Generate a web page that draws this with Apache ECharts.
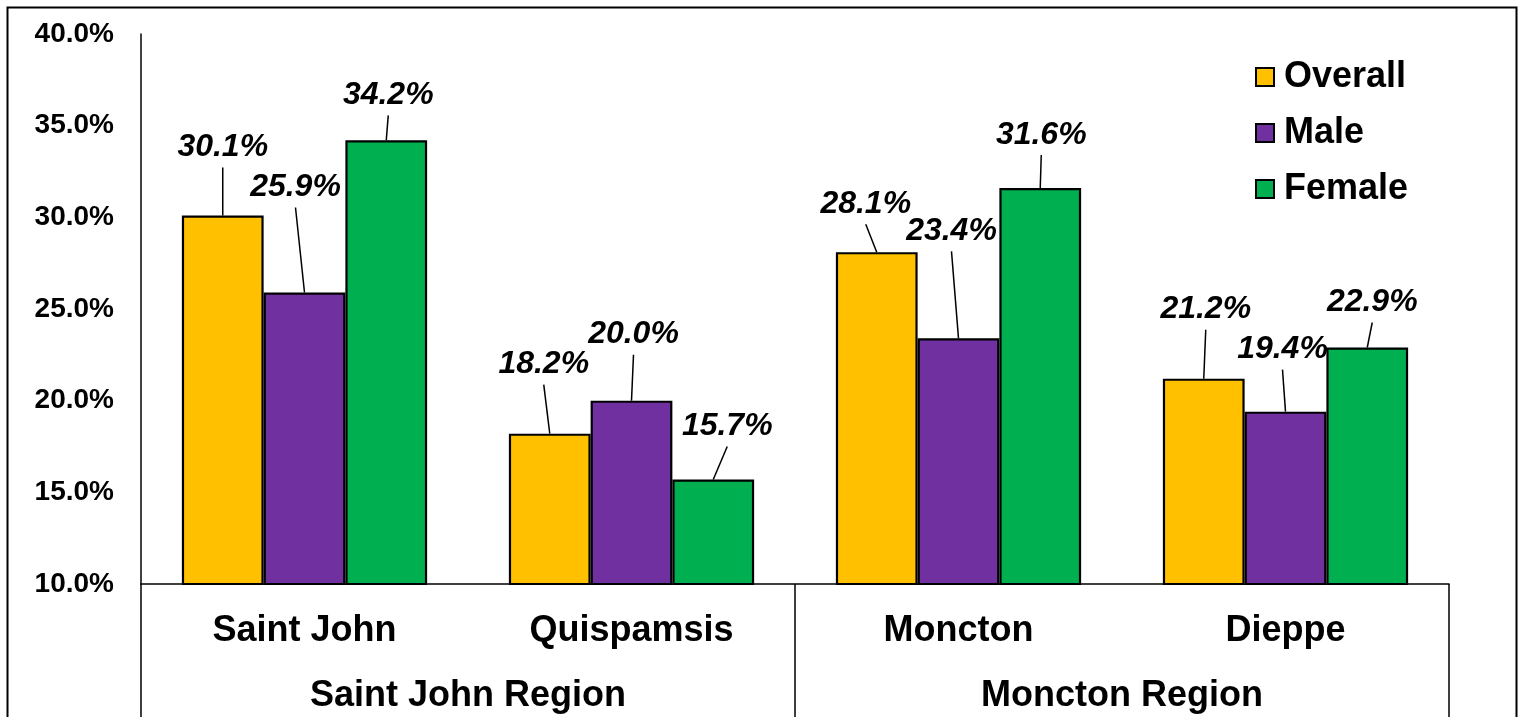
<!DOCTYPE html>
<html>
<head>
<meta charset="utf-8">
<title>Share by city and sex</title>
<script src="https://cdn.jsdelivr.net/npm/echarts@6/dist/echarts.min.js"></script>
<style>
  html, body { margin: 0; padding: 0; background: #ffffff; }
  #chart { width: 1523px; height: 717px; }
</style>
</head>
<body>
<div id="chart"></div>
<script>
// Cities along the x axis, grouped into two regions
var cities = ['Saint John', 'Quispamsis', 'Moncton', 'Dieppe'];
var regions = ['Saint John Region', 'Moncton Region'];

// Percent values per city
var seriesNames = ['Overall', 'Male', 'Female'];
var overall = [30.1, 18.2, 28.1, 21.2];
var male = [25.9, 20.0, 23.4, 19.4];
var female = [34.2, 15.7, 31.6, 22.9];

// Y axis range and step (percent)
var yMin = 10, yMax = 40, yStep = 5;

// Callout label offsets (px) from each bar's top centre: [dx, dy]
var overallLabelOffsets = [[0, -70], [-6, -71], [-11, -50], [2, -71]];
var maleLabelOffsets = [[-9, -107], [2, -68], [-7, -109], [-3, -64]];
var femaleLabelOffsets = [[2, -47], [14, -55], [1, -55], [5, -47]];

var colors = ['#FFC000', '#7030A0', '#00B050'];
var FONT = '"Liberation Sans", Arial, sans-serif';

var valueSets = [overall, male, female];
var offsetSets = [overallLabelOffsets, maleLabelOffsets, femaleLabelOffsets];

var barSeries = seriesNames.map(function (name, s) {
  return {
    name: name,
    type: 'bar',
    data: valueSets[s],
    barGap: '0%',
    barCategoryGap: '25%',
    itemStyle: { color: colors[s], borderColor: '#000000', borderWidth: 2.2 },
    emphasis: { disabled: true },
    z: 2
  };
});

// Callout data: [category index, value, series index, dx, dy]
var calloutData = [];
valueSets.forEach(function (vals, s) {
  vals.forEach(function (v, i) {
    calloutData.push([i, v, s, offsetSets[s][i][0], offsetSets[s][i][1]]);
  });
});

var calloutSeries = {
  type: 'custom',
  name: 'callouts',
  coordinateSystem: 'cartesian2d',
  data: calloutData,
  encode: { x: 0, y: 1 },
  silent: true,
  z: 5,
  clip: false,
  renderItem: function (params, api) {
    var idx = api.value(0);
    var val = api.value(1);
    var s = api.value(2);
    var dx = api.value(3);
    var dy = api.value(4);
    var pt = api.coord([idx, val]);
    var band = api.size([1, 0])[0];
    var barW = band * 0.75 / 3;
    var bx = pt[0] + (s - 1) * barW;
    var by = pt[1];
    var tx = bx + dx;
    var ty = by + dy;
    return {
      type: 'group',
      children: [
        {
          type: 'line',
          shape: { x1: bx, y1: by, x2: tx, y2: ty + 22 },
          style: { stroke: '#000000', lineWidth: 1.5 }
        },
        {
          type: 'text',
          style: {
            text: val.toFixed(1) + '%',
            x: tx,
            y: ty + 2,
            align: 'center',
            verticalAlign: 'middle',
            font: 'italic bold 32px ' + FONT,
            fill: '#000000'
          }
        }
      ]
    };
  }
};

var chart = echarts.init(document.getElementById('chart'), null, { renderer: 'canvas' });

chart.setOption({
  animation: false,
  backgroundColor: '#ffffff',
  textStyle: { fontFamily: FONT },
  grid: { left: 141, right: 74, top: 34, bottom: 133, containLabel: false },
  legend: {
    data: seriesNames,
    orient: 'vertical',
    left: 1250,
    top: 54,
    itemWidth: 18,
    itemHeight: 18,
    itemGap: 20,
    icon: 'rect',
    selectedMode: false,
    itemStyle: { borderColor: '#000000', borderWidth: 2 },
    textStyle: {
      fontFamily: FONT,
      fontSize: 36,
      fontWeight: 'bold',
      color: '#000000',
      lineHeight: 36,
      padding: [0, 0, 0, 5]
    }
  },
  xAxis: [
    {
      type: 'category',
      data: cities,
      position: 'bottom',
      axisLine: { show: true, lineStyle: { color: '#000000', width: 1.5 } },
      axisTick: { show: false },
      axisLabel: {
        interval: 0,
        margin: 47,
        verticalAlign: 'middle',
        fontFamily: FONT,
        fontSize: 36,
        fontWeight: 'bold',
        color: '#000000'
      },
      splitLine: { show: false }
    },
    {
      type: 'category',
      data: regions,
      position: 'bottom',
      axisLine: { show: false },
      axisTick: {
        show: true,
        interval: 0,
        length: 140,
        lineStyle: { color: '#000000', width: 1.5 }
      },
      axisLabel: {
        interval: 0,
        margin: 112,
        verticalAlign: 'middle',
        fontFamily: FONT,
        fontSize: 36,
        fontWeight: 'bold',
        color: '#000000'
      },
      splitLine: { show: false }
    }
  ],
  yAxis: {
    type: 'value',
    min: yMin,
    max: yMax,
    interval: yStep,
    axisLine: { show: true, lineStyle: { color: '#000000', width: 1.5 } },
    axisTick: { show: false },
    splitLine: { show: false },
    axisLabel: {
      margin: 27,
      fontFamily: FONT,
      fontSize: 28,
      fontWeight: 'bold',
      color: '#000000',
      formatter: function (v) { return v.toFixed(1) + '%'; }
    }
  },
  graphic: [
    {
      type: 'rect',
      shape: { x: 7.5, y: 7.5, width: 1509, height: 800 },
      style: { fill: 'none', stroke: '#000000', lineWidth: 2 },
      silent: true,
      z: 10
    }
  ],
  series: barSeries.concat([calloutSeries])
});
</script>
</body>
</html>
